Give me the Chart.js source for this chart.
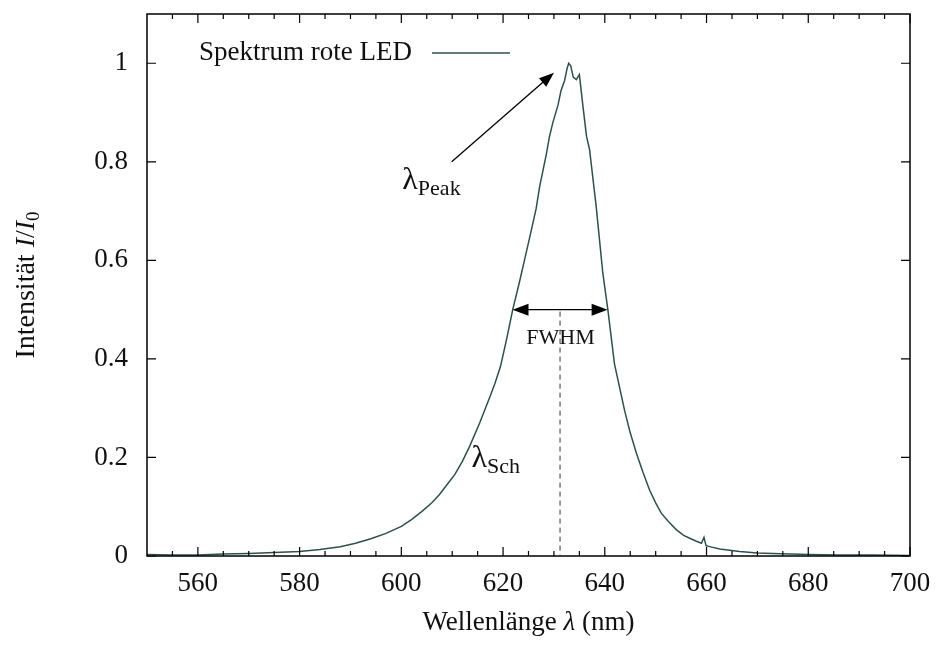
<!DOCTYPE html>
<html>
<head>
<meta charset="utf-8">
<script src="https://cdn.jsdelivr.net/npm/chart.js@4.4.1/dist/chart.umd.min.js"></script>
<style>
  html, body { margin: 0; padding: 0; background: #fff; }
  #wrap { width: 939px; height: 645px; }
</style>
</head>
<body>
<div id="wrap"><canvas id="spectrum"></canvas></div>
<script>
// LED spectrum
const wavelength = [550, 555, 560, 565, 570, 575, 580, 584, 588, 591, 594, 597, 600, 602, 604, 606, 607.5, 609, 610.5, 612,
    613.4, 615.4, 617.3, 618.4, 619.5, 620.7, 621.9, 623.2, 624.2, 625.2, 626.5, 627.2, 628.5, 629.1, 629.8, 630.8, 631.4, 632.1, 632.6, 632.9, 633.3,
    633.8, 634.4, 635.0, 635.7, 636.4, 637.0, 638.3, 639.6, 640.6, 641.9, 643.9, 645, 646.2, 647.5, 648.8, 650, 651.1, 652.5, 654.1, 655.5,
    656.7, 658, 659.0, 659.5, 659.9, 661, 662.6, 666.5, 670, 673, 680, 686, 693, 700];
const intensity = [0.003, 0.002, 0.002, 0.004, 0.005, 0.007, 0.009, 0.013, 0.019, 0.026, 0.035, 0.046, 0.060, 0.074, 0.090, 0.108, 0.125, 0.145, 0.165, 0.192,
    0.222, 0.270, 0.320, 0.350, 0.385, 0.440, 0.500, 0.555, 0.600, 0.645, 0.705, 0.750, 0.815, 0.850, 0.880, 0.915, 0.945, 0.965, 0.990, 1.000, 0.995,
    0.972, 0.967, 0.977, 0.913, 0.852, 0.825, 0.710, 0.575, 0.500, 0.390, 0.295, 0.250, 0.209, 0.170, 0.134, 0.108, 0.087, 0.070, 0.053, 0.042,
    0.036, 0.030, 0.026, 0.038, 0.021, 0.018, 0.014, 0.009, 0.006, 0.005, 0.003, 0.002, 0.002, 0.001];

const xTicks = [560, 580, 600, 620, 640, 660, 680, 700];
const xMinorTicks = [];
for (let v = 555; v < 700; v += 5) if (v % 20 !== 0) xMinorTicks.push(v);
const yTicks = [0, 0.2, 0.4, 0.6, 0.8, 1];

// annotation anchors (data units)
const peakArrow = { from: [609.9, 0.80], to: [630.0, 0.981] };
const fwhmRange = [621.85, 640.55];
const fwhmLevel = 0.5;
const lambdaSch = 631.2;
const peakLabelAt = [600.2, 0.745];
const schLabelAt = [613.8, 0.18];
const fwhmLabelAt = [631.3, 0.443];

const serif = '"Liberation Serif", "DejaVu Serif", serif';
const lineColor = '#2f4f4f';

function arrowHead(ctx, x, y, ang, len, half) {
    ctx.save();
    ctx.translate(x, y);
    ctx.rotate(ang);
    ctx.beginPath();
    ctx.moveTo(0, 0);
    ctx.lineTo(-len, -half);
    ctx.lineTo(-len, half);
    ctx.closePath();
    ctx.fill();
    ctx.restore();
}

// draw text runs side by side: [text, font, dy]
function drawRuns(ctx, runs, x, y, align) {
    let total = 0;
    runs.forEach(r => { ctx.font = r[1]; total += ctx.measureText(r[0]).width; });
    let cx = align === 'center' ? x - total / 2 : x;
    ctx.textAlign = 'left';
    runs.forEach(r => {
        ctx.font = r[1];
        ctx.fillText(r[0], cx, y + (r[2] || 0));
        cx += ctx.measureText(r[0]).width;
    });
}

const decorations = {
    id: 'decorations',
    afterDatasetsDraw(chart) {
        const { ctx, chartArea: a, scales: { x, y } } = chart;
        ctx.save();

        // frame + inward ticks
        ctx.strokeStyle = '#000';
        ctx.lineWidth = 1.5;
        ctx.strokeRect(a.left, a.top, a.right - a.left, a.bottom - a.top);
        ctx.lineWidth = 1.2;
        ctx.beginPath();
        xTicks.forEach(v => {
            const px = x.getPixelForValue(v);
            ctx.moveTo(px, a.bottom); ctx.lineTo(px, a.bottom - 9);
            ctx.moveTo(px, a.top); ctx.lineTo(px, a.top + 9);
        });
        xMinorTicks.forEach(v => {
            const px = x.getPixelForValue(v);
            ctx.moveTo(px, a.bottom); ctx.lineTo(px, a.bottom - 5);
            ctx.moveTo(px, a.top); ctx.lineTo(px, a.top + 5);
        });
        yTicks.forEach(v => {
            const py = y.getPixelForValue(v);
            ctx.moveTo(a.left, py); ctx.lineTo(a.left + 9, py);
            ctx.moveTo(a.right, py); ctx.lineTo(a.right - 9, py);
        });
        ctx.stroke();

        // peak arrow
        ctx.fillStyle = '#000';
        ctx.strokeStyle = '#000';
        ctx.lineWidth = 1.3;
        const x0 = x.getPixelForValue(peakArrow.from[0]), y0 = y.getPixelForValue(peakArrow.from[1]);
        const x1 = x.getPixelForValue(peakArrow.to[0]), y1 = y.getPixelForValue(peakArrow.to[1]);
        const ang = Math.atan2(y1 - y0, x1 - x0);
        ctx.beginPath();
        ctx.moveTo(x0, y0);
        ctx.lineTo(x1 - 12 * Math.cos(ang), y1 - 12 * Math.sin(ang));
        ctx.stroke();
        arrowHead(ctx, x1, y1, ang, 15, 5.5);

        // FWHM double arrow
        const fy = y.getPixelForValue(fwhmLevel);
        const fl = x.getPixelForValue(fwhmRange[0]), fr = x.getPixelForValue(fwhmRange[1]);
        ctx.beginPath();
        ctx.moveTo(fl + 12, fy); ctx.lineTo(fr - 12, fy);
        ctx.stroke();
        arrowHead(ctx, fl, fy, Math.PI, 16, 6);
        arrowHead(ctx, fr, fy, 0, 16, 6);

        // dashed centre wavelength line
        const sx = x.getPixelForValue(lambdaSch);
        ctx.strokeStyle = '#333';
        ctx.lineWidth = 1;
        ctx.setLineDash([5, 4]);
        ctx.beginPath();
        ctx.moveTo(sx, fy + 2); ctx.lineTo(sx, a.bottom);
        ctx.stroke();
        ctx.setLineDash([]);

        // labels
        ctx.fillStyle = '#111';
        ctx.textBaseline = 'alphabetic';
        drawRuns(ctx, [['λ', '32px ' + serif], ['Peak', '22px ' + serif, 6]],
            x.getPixelForValue(peakLabelAt[0]), y.getPixelForValue(peakLabelAt[1]), 'left');
        drawRuns(ctx, [['λ', '32px ' + serif], ['Sch', '22px ' + serif, 6]],
            x.getPixelForValue(schLabelAt[0]), y.getPixelForValue(schLabelAt[1]), 'left');
        ctx.textBaseline = 'middle';
        drawRuns(ctx, [['FWHM', '22px ' + serif]],
            x.getPixelForValue(fwhmLabelAt[0]), y.getPixelForValue(fwhmLabelAt[1]), 'center');

        // legend: text then line sample
        const ds = chart.data.datasets[0];
        ctx.font = '27px ' + serif;
        ctx.textBaseline = 'middle';
        ctx.textAlign = 'left';
        const lx = a.left + 52, ly = a.top + 39;
        ctx.fillText(ds.label, lx, ly);
        const tw = ctx.measureText(ds.label).width;
        ctx.strokeStyle = lineColor;
        ctx.lineWidth = 1.5;
        ctx.beginPath();
        ctx.moveTo(lx + tw + 20, ly); ctx.lineTo(lx + tw + 98, ly);
        ctx.stroke();

        // axis titles
        ctx.fillStyle = '#111';
        ctx.textBaseline = 'alphabetic';
        drawRuns(ctx, [['Wellenlänge ', '27px ' + serif], ['λ', 'italic 27px ' + serif], [' (nm)', '27px ' + serif]],
            (a.left + a.right) / 2, 630, 'center');
        ctx.save();
        ctx.translate(34, (a.top + a.bottom) / 2);
        ctx.rotate(-Math.PI / 2);
        drawRuns(ctx, [['Intensität ', '28px ' + serif], ['I', 'italic 28px ' + serif], ['/', '28px ' + serif],
            ['I', 'italic 28px ' + serif], ['0', '19px ' + serif, 5]], 0, 0, 'center');
        ctx.restore();

        ctx.restore();
    }
};

new Chart(document.getElementById('spectrum'), {
    type: 'line',
    data: {
        labels: wavelength,
        datasets: [{
            label: 'Spektrum rote LED',
            data: wavelength.map((w, i) => ({ x: w, y: intensity[i] })),
            borderColor: lineColor,
            borderWidth: 1.5,
            pointRadius: 0,
            tension: 0,
            fill: false
        }]
    },
    options: {
        responsive: true,
        maintainAspectRatio: false,
        animation: false,
        layout: { padding: { top: 14, right: 29, left: 0, bottom: 0 } },
        plugins: { legend: { display: false }, tooltip: { enabled: false } },
        scales: {
            x: {
                type: 'linear',
                min: 550,
                max: 700,
                grid: { display: false, drawTicks: false },
                border: { display: false },
                afterBuildTicks: s => { s.ticks = xTicks.map(v => ({ value: v })); },
                afterFit: s => { s.height = 89; s.paddingLeft = 0; s.paddingRight = 0; },
                ticks: { color: '#111', font: { family: serif, size: 27 }, padding: 12, maxRotation: 0, autoSkip: false }
            },
            y: {
                min: 0,
                max: 1.1,
                grid: { display: false, drawTicks: false },
                border: { display: false },
                afterBuildTicks: s => { s.ticks = yTicks.map(v => ({ value: v })); },
                afterFit: s => { s.width = 147; s.paddingTop = 0; s.paddingBottom = 0; },
                ticks: { color: '#111', font: { family: serif, size: 27 }, padding: 19, callback: v => String(v) }
            }
        }
    },
    plugins: [decorations]
});
</script>
</body>
</html>
